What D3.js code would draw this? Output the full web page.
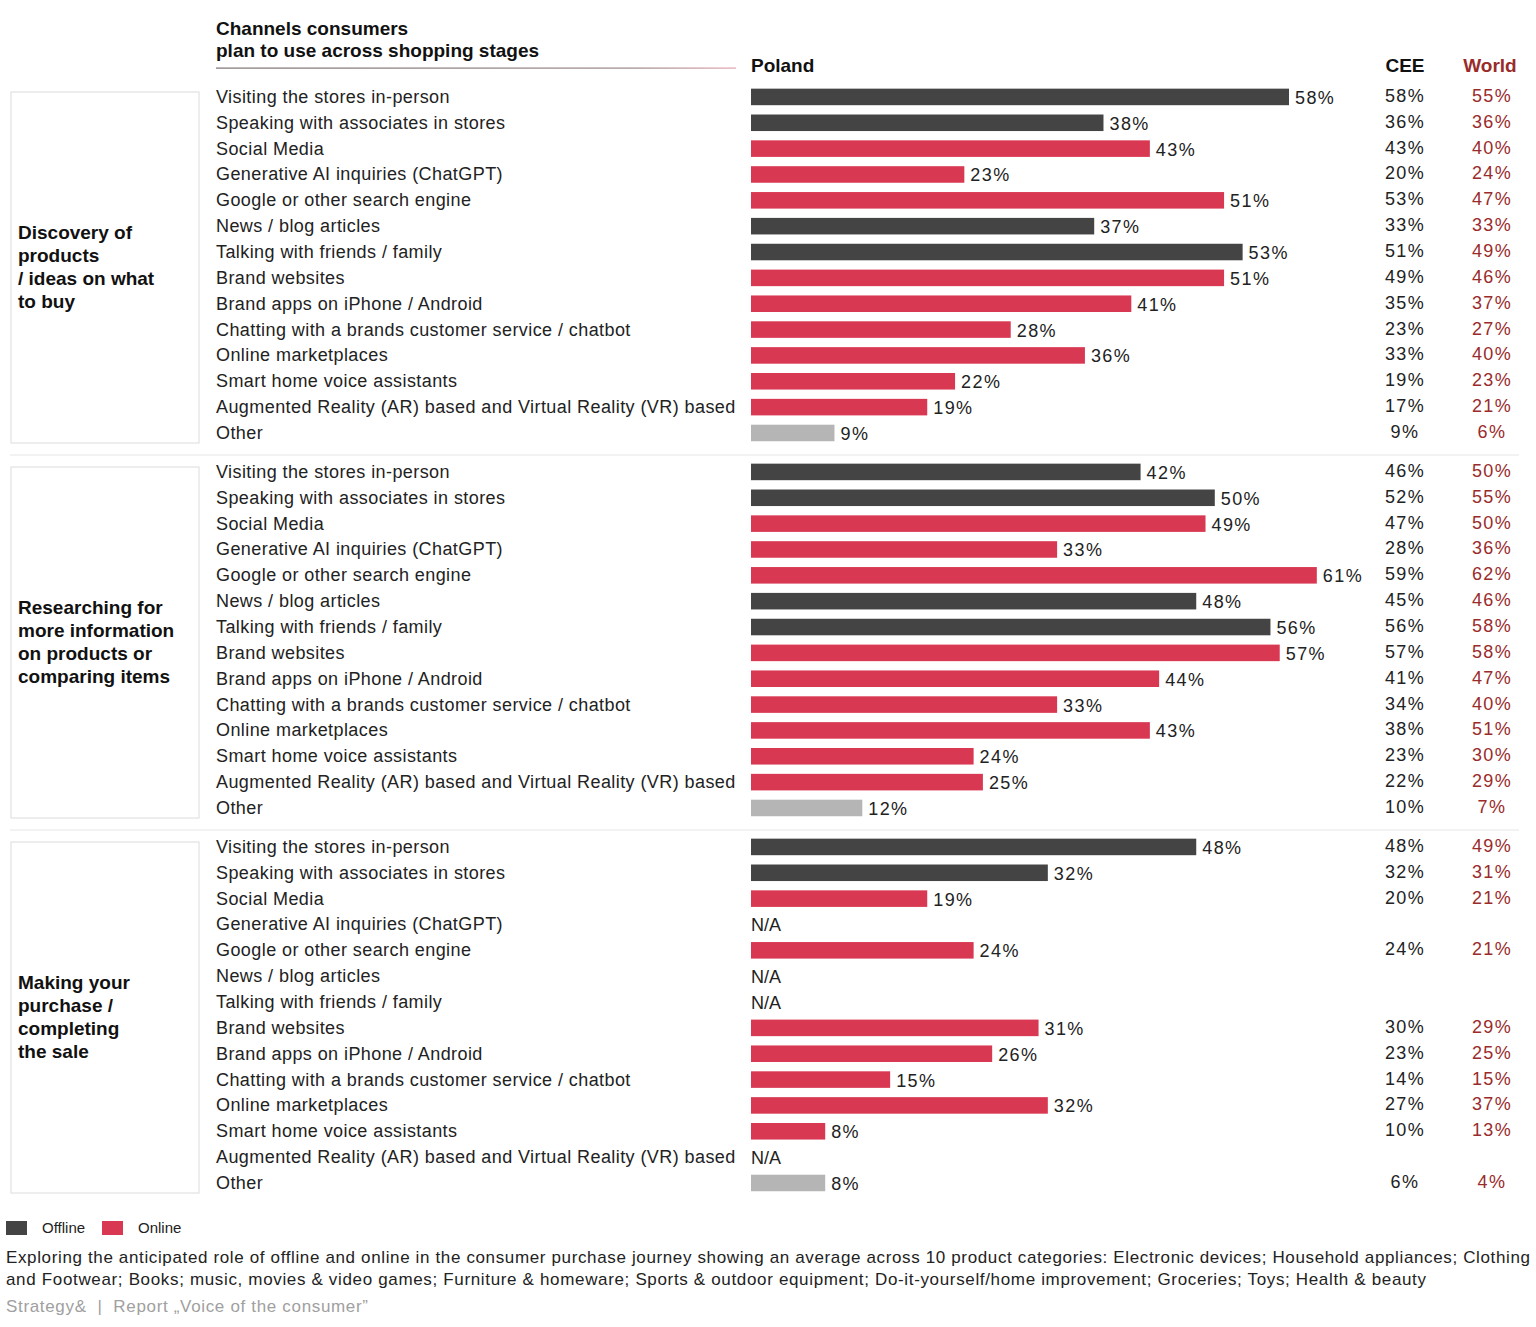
<!DOCTYPE html>
<html lang="en">
<head>
    <meta charset="UTF-8">
    <title>Channels consumers plan to use across shopping stages</title>
    <script src="https://d3js.org/d3.v7.min.js"></script>
    <style>
        body {
            margin: 0;
            padding: 0;
            background-color: #ffffff;
            overflow: hidden;
        }

        svg {
            display: block;
            font-family: "Liberation Sans", Arial, sans-serif;
        }

        .label {
            fill: #222;
            font-size: 18px;
            letter-spacing: 0.42px;
        }

        .num {
            font-size: 18px;
            letter-spacing: 1.4px;
        }
    </style>
</head>
<body>
    <script>
        // Channels (same order in every stage)
        const channels = [
            "Visiting the stores in-person",
            "Speaking with associates in stores",
            "Social Media",
            "Generative AI inquiries (ChatGPT)",
            "Google or other search engine",
            "News / blog articles",
            "Talking with friends / family",
            "Brand websites",
            "Brand apps on iPhone / Android",
            "Chatting with a brands customer service  / chatbot",
            "Online marketplaces",
            "Smart home voice assistants",
            "Augmented Reality (AR) based and Virtual Reality (VR) based",
            "Other"
        ];
        const channelTypes = ["off", "off", "on", "on", "on", "off", "off", "on", "on", "on", "on", "on", "on", "other"];

        const stages = [
            ["Discovery of", "products", "/ ideas on what", "to buy"],
            ["Researching for", "more information", "on products or", "comparing items"],
            ["Making your", "purchase /", "completing", "the sale"]
        ];

        // Values in %, null = N/A
        const poland = [
            [58, 38, 43, 23, 51, 37, 53, 51, 41, 28, 36, 22, 19, 9],
            [42, 50, 49, 33, 61, 48, 56, 57, 44, 33, 43, 24, 25, 12],
            [48, 32, 19, null, 24, null, null, 31, 26, 15, 32, 8, null, 8]
        ];
        const cee = [
            [58, 36, 43, 20, 53, 33, 51, 49, 35, 23, 33, 19, 17, 9],
            [46, 52, 47, 28, 59, 45, 56, 57, 41, 34, 38, 23, 22, 10],
            [48, 32, 20, null, 24, null, null, 30, 23, 14, 27, 10, null, 6]
        ];
        const world = [
            [55, 36, 40, 24, 47, 33, 49, 46, 37, 27, 40, 23, 21, 6],
            [50, 55, 50, 36, 62, 46, 58, 58, 47, 40, 51, 30, 29, 7],
            [49, 31, 21, null, 21, null, null, 29, 25, 15, 37, 13, null, 4]
        ];

        const legendItems = [["off", "Offline"], ["on", "Online"]];

        const colors = { off: "#444444", on: "#d93852", other: "#b5b5b5" };
        const worldColor = "#9a2b2b";

        const width = 1536, height = 1327;
        const svg = d3.select("body").append("svg")
            .attr("width", width)
            .attr("height", height);

        const x = d3.scaleLinear().domain([0, 58]).range([751, 1289]);

        const stageTop = d3.scaleLinear().domain([0, 1]).range([84, 459]);
        const rowStep = 25.85;
        const y = d3.scaleBand()
            .domain(d3.range(channels.length))
            .range([0, rowStep * channels.length])
            .paddingInner(0.36)
            .paddingOuter(0.18);

        // Header
        const header = svg.append("g");
        header.append("text")
            .attr("x", 216).attr("y", 35)
            .attr("font-size", 19).attr("font-weight", "bold").attr("fill", "#111")
            .text("Channels consumers");
        header.append("text")
            .attr("x", 216).attr("y", 57)
            .attr("font-size", 19).attr("font-weight", "bold").attr("fill", "#111")
            .text("plan to use across shopping stages");

        const grad = svg.append("defs").append("linearGradient")
            .attr("id", "hdrLine");
        grad.append("stop").attr("offset", "0%").attr("stop-color", "#7d7070");
        grad.append("stop").attr("offset", "80%").attr("stop-color", "#9a8888");
        grad.append("stop").attr("offset", "100%").attr("stop-color", "#e2a6b0");
        header.append("rect")
            .attr("x", 216).attr("y", 67.5).attr("width", 520).attr("height", 1.2)
            .attr("fill", "url(#hdrLine)");

        header.append("text")
            .attr("x", 751).attr("y", 72)
            .attr("font-size", 19).attr("font-weight", "bold").attr("fill", "#111")
            .text("Poland");
        header.append("text")
            .attr("x", 1405).attr("y", 72).attr("text-anchor", "middle")
            .attr("font-size", 19).attr("font-weight", "bold").attr("fill", "#111")
            .text("CEE");
        header.append("text")
            .attr("x", 1490).attr("y", 72).attr("text-anchor", "middle")
            .attr("font-size", 19).attr("font-weight", "bold").attr("fill", worldColor)
            .text("World");

        // Stages
        stages.forEach((stage, s) => {
            const g = svg.append("g")
                .attr("transform", `translate(0,${stageTop(s)})`);

            if (s > 0) {
                g.append("line")
                    .attr("x1", 10).attr("x2", 1519)
                    .attr("y1", -4).attr("y2", -4)
                    .attr("stroke", "#e6e6e6").attr("stroke-width", 1);
            }

            g.append("rect")
                .attr("x", 11).attr("y", 8)
                .attr("width", 188).attr("height", 351)
                .attr("fill", "#fff")
                .attr("stroke", "#dcdcdc").attr("stroke-width", 1);

            g.append("text")
                .attr("font-size", 19).attr("font-weight", "bold").attr("fill", "#111")
                .selectAll("tspan")
                .data(stage)
                .enter().append("tspan")
                .attr("x", 18)
                .attr("y", (d, i) => 155 + i * 23)
                .text(d => d);

            const rows = g.selectAll(".row")
                .data(channels.map((c, i) => ({
                    name: c, type: channelTypes[i],
                    pl: poland[s][i], cee: cee[s][i], world: world[s][i], i: i
                })))
                .enter().append("g")
                .attr("class", "row")
                .attr("transform", d => `translate(0,${y(d.i)})`);

            const bh = y.bandwidth();

            rows.append("text")
                .attr("class", "label")
                .attr("x", 216).attr("y", bh / 2 + 6)
                .text(d => d.name);

            rows.filter(d => d.pl !== null)
                .append("rect")
                .attr("x", x(0))
                .attr("y", 0)
                .attr("width", d => x(d.pl) - x(0))
                .attr("height", bh)
                .attr("fill", d => colors[d.type]);

            rows.append("text")
                .attr("class", "num")
                .attr("x", d => d.pl === null ? x(0) : x(d.pl) + 6)
                .attr("y", bh / 2 + 7)
                .attr("fill", "#222")
                .style("letter-spacing", d => d.pl === null ? "0px" : null)
                .text(d => d.pl === null ? "N/A" : d.pl + "%");

            rows.filter(d => d.cee !== null)
                .append("text")
                .attr("class", "num")
                .attr("x", 1405).attr("y", bh / 2 + 5)
                .attr("text-anchor", "middle")
                .attr("fill", "#222")
                .text(d => d.cee + "%");

            rows.filter(d => d.world !== null)
                .append("text")
                .attr("class", "num")
                .attr("x", 1492).attr("y", bh / 2 + 5)
                .attr("text-anchor", "middle")
                .attr("fill", worldColor)
                .text(d => d.world + "%");
        });

        // Legend
        const legend = svg.append("g")
            .attr("transform", "translate(6,1221)");
        const li = legend.selectAll("g")
            .data(legendItems)
            .enter().append("g")
            .attr("transform", (d, i) => `translate(${i * 96},0)`);
        li.append("rect")
            .attr("width", 21).attr("height", 14)
            .attr("fill", d => colors[d[0]]);
        li.append("text")
            .attr("x", 36).attr("y", 12)
            .attr("font-size", 15).attr("fill", "#222")
            .text(d => d[1]);

        // Footnote
        const notes = [
            "Exploring the anticipated role of offline and online in the consumer purchase journey showing an average across 10 product categories: Electronic devices; Household appliances; Clothing",
            "and Footwear; Books; music, movies & video games; Furniture & homeware; Sports & outdoor equipment; Do-it-yourself/home improvement; Groceries; Toys; Health & beauty"
        ];
        const noteLengths = [1524, 1420];
        svg.append("g").selectAll("text")
            .data(notes)
            .enter().append("text")
            .attr("x", 6)
            .attr("y", (d, i) => 1263 + i * 22)
            .attr("font-size", 17).attr("fill", "#222")
            .attr("textLength", (d, i) => noteLengths[i])
            .attr("lengthAdjust", "spacing")
            .text(d => d);

        svg.append("text")
            .attr("x", 6).attr("y", 1312)
            .attr("font-size", 17).attr("fill", "#a0a0a0")
            .attr("textLength", 362)
            .attr("lengthAdjust", "spacing")
            .text("Strategy&  \u00a0|\u00a0 Report \u201eVoice of the consumer\u201d");
    </script>
</body>
</html>
